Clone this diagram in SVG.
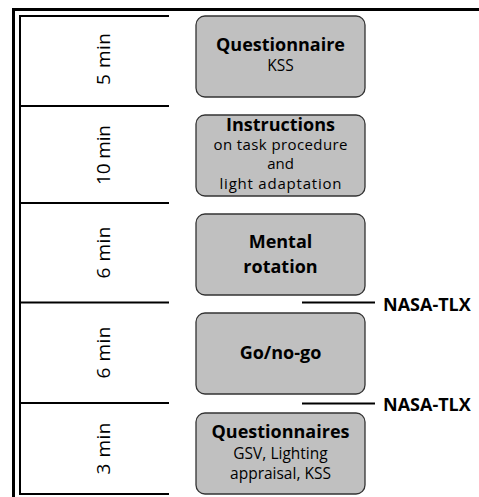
<svg xmlns="http://www.w3.org/2000/svg" width="479" height="497" viewBox="0 0 479 497">
<style>
.box{fill:#c0c0c0;stroke:#333;stroke-width:1.3}
.b{font-family:"Open Sans","Noto Sans",sans-serif;font-weight:bold;font-size:18px;fill:#000;text-anchor:middle}
.r{font-family:"Open Sans","Noto Sans",sans-serif;font-size:15.5px;fill:#000;text-anchor:middle}
.ri{font-family:"Open Sans","Noto Sans",sans-serif;font-size:15px;fill:#000;text-anchor:middle}
.t{font-family:"Open Sans","Noto Sans",sans-serif;font-size:19px;fill:#000;text-anchor:middle}
.lbl{font-family:"Open Sans","Noto Sans",sans-serif;font-weight:bold;font-size:18px;fill:#000}
.thick{stroke:#000;stroke-width:3;fill:none}
.thin{stroke:#000;stroke-width:2;fill:none}
</style>
<rect width="479" height="497" fill="#fff"/>
<g id="frame">
<line class="thick" x1="12" y1="9.5" x2="479" y2="9.5"/>
<line class="thick" x1="13.5" y1="8" x2="13.5" y2="497"/>
<line class="thin" x1="20" y1="15" x2="20" y2="495"/>
<line class="thin" x1="19" y1="16" x2="169" y2="16"/>
<line class="thin" x1="19" y1="106" x2="169" y2="106"/>
<line class="thin" x1="19" y1="203" x2="169" y2="203"/>
<line class="thin" x1="19" y1="302.5" x2="169" y2="302.5"/>
<line class="thin" x1="19" y1="403" x2="169" y2="403"/>
<line class="thin" x1="19" y1="494" x2="169" y2="494"/>
</g>
<g id="time1"><text class="t" transform="translate(110,59) rotate(-90)" textLength="52" lengthAdjust="spacing">5 min</text></g>
<g id="time2"><text class="t" transform="translate(110,155) rotate(-90)" textLength="60" lengthAdjust="spacing">10 min</text></g>
<g id="time3"><text class="t" transform="translate(110,252.5) rotate(-90)" textLength="52" lengthAdjust="spacing">6 min</text></g>
<g id="time4"><text class="t" transform="translate(110,352.5) rotate(-90)" textLength="52" lengthAdjust="spacing">6 min</text></g>
<g id="time5"><text class="t" transform="translate(110,448.5) rotate(-90)" textLength="52" lengthAdjust="spacing">3 min</text></g>
<g id="questionnaire">
<rect class="box" x="196" y="16" width="169" height="81" rx="9"/>
<text class="b" x="280.5" y="51">Questionnaire</text>
<text class="r" x="280.5" y="71">KSS</text>
</g>
<g id="instructions">
<rect class="box" x="196" y="115" width="169" height="81" rx="9"/>
<text class="b" x="280.5" y="131">Instructions</text>
<text class="ri" x="280.5" y="149.5" textLength="134" lengthAdjust="spacing">on task procedure</text>
<text class="ri" x="280.5" y="169">and</text>
<text class="ri" x="280.5" y="189" textLength="122" lengthAdjust="spacing">light adaptation</text>
</g>
<g id="mental">
<rect class="box" x="196" y="214" width="169" height="81" rx="9"/>
<text class="b" x="280.5" y="248">Mental</text>
<text class="b" x="280.5" y="273">rotation</text>
</g>
<g id="gonogo">
<rect class="box" x="196" y="313" width="169" height="81" rx="9"/>
<text class="b" x="280.5" y="359">Go/no-go</text>
</g>
<g id="questionnaires">
<rect class="box" x="196" y="413" width="169" height="81" rx="9"/>
<text class="b" x="280.5" y="438">Questionnaires</text>
<text class="r" x="280.5" y="459">GSV, Lighting</text>
<text class="r" x="280.5" y="479">appraisal, KSS</text>
</g>
<g id="connectors">
<line class="thin" x1="302" y1="302.5" x2="375" y2="302.5"/>
<line class="thin" x1="302" y1="403.5" x2="375" y2="403.5"/>
</g>
<g id="nasa1"><text class="lbl" x="383" y="311">NASA-TLX</text></g>
<g id="nasa2"><text class="lbl" x="383" y="411">NASA-TLX</text></g>
</svg>
